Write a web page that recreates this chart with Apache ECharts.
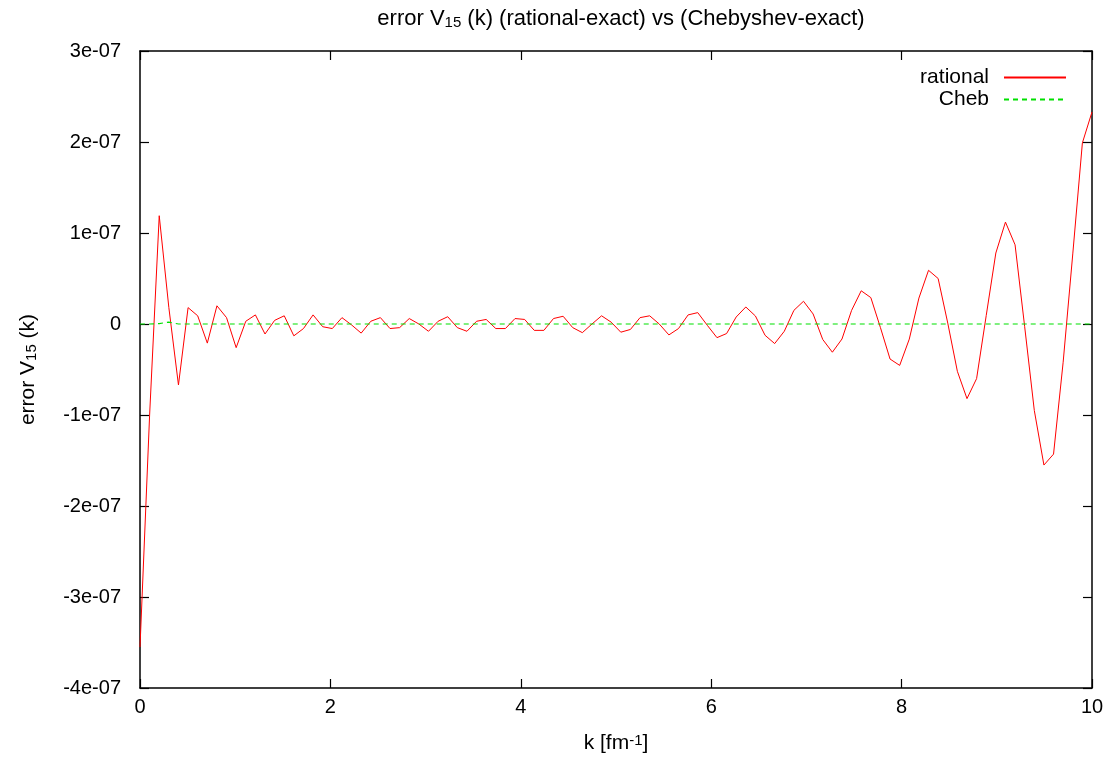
<!DOCTYPE html>
<html>
<head>
<meta charset="utf-8">
<script src="https://cdn.jsdelivr.net/npm/echarts@6/dist/echarts.min.js"></script>
<style>
html,body{margin:0;padding:0;background:#fff;}
#chart{width:1116px;height:766px;}
</style>
</head>
<body>
<div id="chart"></div>
<script>
// sample count: 100 points over k = 0 .. 10
const nPoints = 100;
const kMax = 10;
// errors in units of 1e-7
const rationalE7 = [
  -3.55, -1.0, 1.19, 0.18, -0.67, 0.18, 0.09, -0.21, 0.20, 0.07,
  -0.26, 0.03, 0.10, -0.11, 0.04, 0.09, -0.13, -0.05, 0.10, -0.03,
  -0.05, 0.07, -0.01, -0.10, 0.03, 0.07, -0.05, -0.04, 0.06, 0.00,
  -0.08, 0.03, 0.08, -0.04, -0.08, 0.03, 0.05, -0.05, -0.05, 0.06,
  0.05, -0.07, -0.07, 0.06, 0.085, -0.04, -0.095, 0.0, 0.09, 0.02,
  -0.09, -0.06, 0.07, 0.09, 0.0, -0.12, -0.05, 0.10, 0.125, -0.015,
  -0.15, -0.105, 0.077, 0.187, 0.088, -0.124, -0.215, -0.08, 0.15, 0.25,
  0.11, -0.17, -0.31, -0.165, 0.15, 0.365, 0.29, -0.04, -0.385, -0.455,
  -0.166, 0.285, 0.59, 0.50, 0.01, -0.52, -0.82, -0.60, 0.093, 0.78,
  1.12, 0.87, -0.03, -0.95, -1.55, -1.43, -0.42, 0.77, 1.99, 2.33
];
const chebE7 = [
  0, 0, 0.005, 0.02, 0, 0, 0, 0, 0, 0,
  0, 0, 0, 0, 0, 0, 0, 0, 0, 0,
  0, 0, 0, 0, 0, 0, 0, 0, 0, 0,
  0, 0, 0, 0, 0, 0, 0, 0, 0, 0,
  0, 0, 0, 0, 0, 0, 0, 0, 0, 0,
  0, 0, 0, 0, 0, 0, 0, 0, 0, 0,
  0, 0, 0, 0, 0, 0, 0, 0, 0, 0,
  0, 0, 0, 0, 0, 0, 0, 0, 0, 0,
  0, 0, 0, 0, 0, 0, 0, 0, 0, 0,
  0, 0, 0, 0, 0, 0, 0, 0, 0, 0
];
const xTicks = [0, 2, 4, 6, 8, 10];
const yTicks = ['-4e-07', '-3e-07', '-2e-07', '-1e-07', '0', '1e-07', '2e-07', '3e-07'];
const seriesNames = ['rational', 'Cheb'];

const kValues = rationalE7.map((_, i) => i * kMax / (nPoints - 1));
const rationalData = rationalE7.map((v, i) => [kValues[i], v * 1e-7]);
const chebData = chebE7.map((v, i) => [kValues[i], v * 1e-7]);

const FONT = '"Liberation Sans", Arial, sans-serif';
const FS_TITLE = 22;
const FS_NAME = 21;
const FS_TICK = 20;
const FS_LEG = 21;

function yLabel(v) {
  const n = Math.round(v * 1e7);
  return yTicks[n + 4];
}

function axisCommon() {
  return {
    axisLine: { show: true, onZero: false, lineStyle: { color: '#000', width: 1.5 } },
    axisTick: { show: true, inside: true, length: 9, lineStyle: { color: '#000', width: 1.2 } },
    splitLine: { show: false },
    minorTick: { show: false }
  };
}

const subRich = { fontFamily: FONT, fontSize: 15, color: '#000', verticalAlign: 'bottom', lineHeight: 15, padding: [13, 0, 0, 0] };
const supRich = { fontFamily: FONT, fontSize: 15, color: '#000', verticalAlign: 'top', lineHeight: 15, padding: [0, 0, 12, 0] };

const chart = echarts.init(document.getElementById('chart'), null, { renderer: 'canvas' });
chart.setOption({
  backgroundColor: '#fff',
  animation: false,
  textStyle: { fontFamily: FONT },
  title: {
    text: 'error V{sub|15} (k) (rational-exact) vs (Chebyshev-exact)',
    left: 616,
    textAlign: 'center',
    top: 3,
    textStyle: { fontFamily: FONT, fontSize: FS_TITLE, fontWeight: 'normal', color: '#000', rich: { sub: subRich } }
  },
  legend: [
    {
      data: [seriesNames[0]], right: 44, top: 62, orient: 'vertical', align: 'right',
      itemWidth: 62, itemHeight: 14, itemStyle: { opacity: 0 },
      textStyle: { fontFamily: FONT, fontSize: FS_LEG, color: '#000', padding: [0, 10, 0, 0] }
    },
    {
      data: [seriesNames[1]], right: 44, top: 84, orient: 'vertical', align: 'right',
      itemWidth: 62, itemHeight: 14, itemStyle: { opacity: 0 },
      textStyle: { fontFamily: FONT, fontSize: FS_LEG, color: '#000', padding: [0, 10, 0, 0] }
    }
  ],
  grid: { left: 140, right: 24, top: 51, bottom: 78, containLabel: false },
  xAxis: [
    Object.assign(axisCommon(), {
      type: 'value', position: 'bottom', min: 0, max: 10, interval: 2,
      axisLabel: { show: true, margin: 9, fontFamily: FONT, fontSize: FS_TICK, color: '#000',
        formatter: v => String(xTicks[Math.round(v / 2)]) },
      name: 'k [fm{sup|-1}]', nameLocation: 'middle', nameGap: 45,
      nameTextStyle: { fontFamily: FONT, fontSize: FS_NAME, color: '#000', rich: { sup: supRich } }
    }),
    Object.assign(axisCommon(), {
      type: 'value', position: 'top', min: 0, max: 10, interval: 2,
      axisLabel: { show: false }
    })
  ],
  yAxis: [
    Object.assign(axisCommon(), {
      type: 'value', position: 'left', min: -4e-7, max: 3e-7, interval: 1e-7,
      axisLabel: { show: true, margin: 19, fontFamily: FONT, fontSize: FS_TICK, color: '#000', formatter: yLabel },
      name: 'error V{sub|15} (k)', nameLocation: 'middle', nameGap: 101, nameRotate: 90,
      nameTextStyle: { fontFamily: FONT, fontSize: FS_NAME, color: '#000', rich: { sub: subRich } }
    }),
    Object.assign(axisCommon(), {
      type: 'value', position: 'right', min: -4e-7, max: 3e-7, interval: 1e-7,
      axisLabel: { show: false }
    })
  ],
  series: [
    {
      name: seriesNames[0], type: 'line', xAxisIndex: 0, yAxisIndex: 0,
      data: rationalData, showSymbol: false, symbol: 'none', smooth: false,
      lineStyle: { color: '#ff0000', width: 1 }, itemStyle: { color: '#ff0000' }, z: 3
    },
    {
      name: seriesNames[1], type: 'line', xAxisIndex: 0, yAxisIndex: 0,
      data: chebData, showSymbol: false, symbol: 'none', smooth: false,
      lineStyle: { color: '#00e000', width: 1.2, type: [5, 4] }, itemStyle: { color: '#00e000' }, z: 4
    }
  ]
});
</script>
</body>
</html>
